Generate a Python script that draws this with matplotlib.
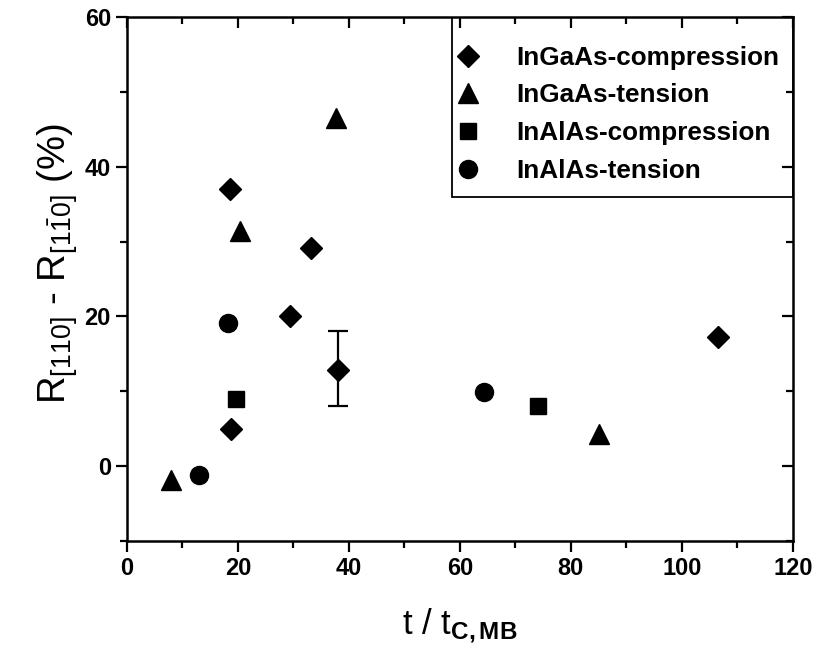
import matplotlib
matplotlib.use("Agg")
import matplotlib.pyplot as plt
from matplotlib.patches import Rectangle

plt.rcParams['font.family'] = ['Liberation Sans', 'DejaVu Sans']
plt.rcParams['mathtext.fontset'] = 'custom'
plt.rcParams['mathtext.rm'] = 'Liberation Sans'
plt.rcParams['mathtext.bf'] = 'Liberation Sans:bold'
plt.rcParams['mathtext.it'] = 'Liberation Sans:italic'

# data
gaas_comp_x = [18.6, 33.2, 29.4, 38.1, 18.7, 106.5]
gaas_comp_y = [37.0, 29.1, 20.1, 12.9, 4.9, 17.2]
err_x = [38.1]
err_y = [13.0]
err_dy = [5.0]

gaas_tens_x = [8.0, 20.4, 37.7, 85.0]
gaas_tens_y = [-1.9, 31.4, 46.5, 4.3]

alas_comp_x = [19.7, 74.1]
alas_comp_y = [9.0, 8.0]

alas_tens_x = [13.0, 18.2, 64.4]
alas_tens_y = [-1.2, 19.1, 9.9]

fig = plt.figure(figsize=(8.19, 6.58), dpi=100)
ax = fig.add_axes([0.155, 0.178, 0.813, 0.796])

ax.errorbar(err_x, err_y, yerr=err_dy, fmt='none', ecolor='black',
            elinewidth=1.6, capsize=7.5, capthick=1.6)
ax.plot(gaas_comp_x, gaas_comp_y, 'D', color='black', ms=11, ls='none',
        label='InGaAs-compression')
ax.plot(gaas_tens_x, gaas_tens_y, '^', color='black', ms=15, ls='none',
        label='InGaAs-tension')
ax.plot(alas_comp_x, alas_comp_y, 's', color='black', ms=12, ls='none',
        label='InAlAs-compression')
ax.plot(alas_tens_x, alas_tens_y, 'o', color='black', ms=13, ls='none',
        label='InAlAs-tension')

ax.set_xlim(0, 120)
ax.set_ylim(-10, 60)
ax.set_xticks([0, 20, 40, 60, 80, 100, 120])
ax.set_xticks(range(10, 120, 20), minor=True)
ax.set_yticks([0, 20, 40, 60])
ax.set_yticks([-10, 10, 30, 50], minor=True)

for s in ax.spines.values():
    s.set_linewidth(1.8)
ax.tick_params(which='both', width=1.6, labelsize=17)
ax.tick_params(which='major', length=8)
ax.tick_params(which='minor', length=5)
ax.tick_params(top=True, right=True, which='both')
for lbl in ax.get_xticklabels() + ax.get_yticklabels():
    lbl.set_fontweight('bold')

# top and right ticks point inward, bottom and left outward
ax.xaxis.set_tick_params(which='both', direction='out')
ax.yaxis.set_tick_params(which='both', direction='out')
for t in ax.xaxis.get_major_ticks() + ax.xaxis.get_minor_ticks():
    t.tick2line.set_marker(matplotlib.lines.TICKDOWN)
for t in ax.yaxis.get_major_ticks() + ax.yaxis.get_minor_ticks():
    t.tick2line.set_marker(matplotlib.lines.TICKLEFT)

ax.set_xlabel(r'$\mathregular{t\ /\ t_{\mathbf{C,MB}}}$', fontsize=25, labelpad=19)
ax.set_ylabel(r'R$_{\mathregular{[110]}}$ - R$_{\mathregular{[1\bar{1}0]}}$ (%)',
              fontsize=27.5, labelpad=3, y=0.53)

# legend box touching the top and right spines
ax.add_patch(Rectangle((0.4875, 0.657), 0.5125, 0.343, transform=ax.transAxes,
                       fill=False, edgecolor='black', linewidth=1.3, zorder=4))
ax.legend(loc='upper left', bbox_to_anchor=(0.497, 0.945), frameon=False,
          borderaxespad=0, borderpad=0, prop={'weight': 'bold', 'size': 18.8},
          handletextpad=1.45, labelspacing=0.52, handlelength=0.8)

fig.savefig('out.png', dpi=100)
